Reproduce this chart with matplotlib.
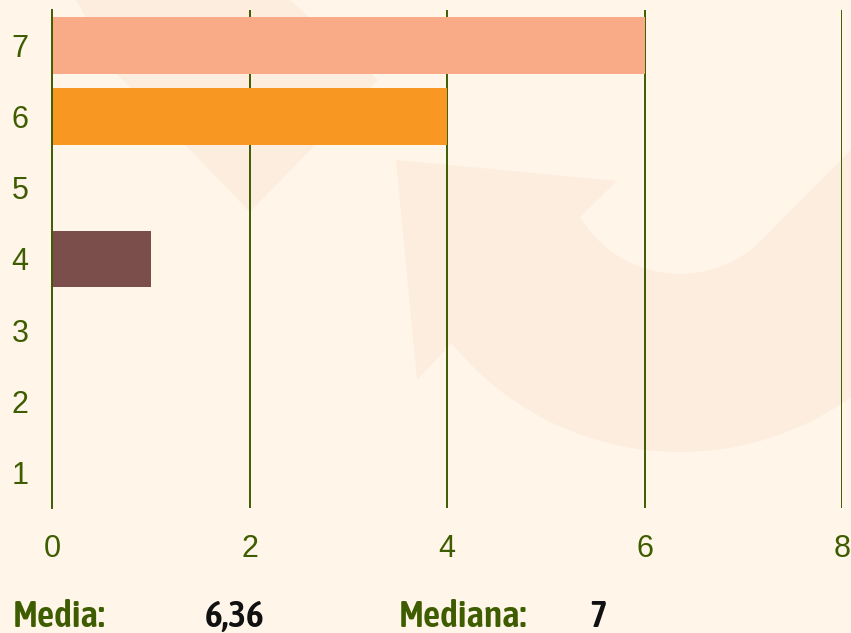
import matplotlib
matplotlib.use("Agg")
import matplotlib.pyplot as plt
from matplotlib import font_manager
from matplotlib.patches import Polygon
import numpy as np

# data
categories = [1, 2, 3, 4, 5, 6, 7]
counts = [0, 0, 0, 1, 0, 4, 6]
bar_colors = ["#C9D66B", "#8FB339", "#4F7A28", "#7B4E4B",
              "#F5C16C", "#F89721", "#F9AB88"]
x_ticks = [0, 2, 4, 6, 8]

BG = "#FFF5E8"
WATERMARK = "#FDEDDF"
GREEN = "#3E5C00"

W, H = 851, 633


def as_weight(w):
    table = {"normal": 400, "regular": 400, "book": 400, "medium": 500,
             "semibold": 600, "demibold": 600, "bold": 700,
             "heavy": 800, "extra bold": 800, "black": 900}
    if isinstance(w, str):
        return table.get(w.lower(), 400)
    return int(w)


def pick_narrow_font():
    """Return a FontProperties for the condensed summary text."""
    fonts = font_manager.fontManager.ttflist
    narrow = [f for f in fonts
              if ("Narrow" in f.name or "Condensed" in f.name
                  or f.stretch in ("condensed", "semi-condensed"))
              and "DejaVu" not in f.name
              and f.style == "normal"]
    if not narrow:
        return font_manager.FontProperties(family="Roboto",
                                           weight="medium", size=24)
    # a medium / semibold face is closest to the reference look
    best = min(narrow, key=lambda f: (as_weight(f.weight) < 500,
                                      abs(as_weight(f.weight) - 560)))
    size = 27 if as_weight(best.weight) >= 500 else 28.5
    return font_manager.FontProperties(fname=best.fname, size=size)


def draw_watermark(fig):
    # faint decorative arrows behind the chart (pixel coords)
    bg = fig.add_axes([0, 0, 1, 1], zorder=-1)
    bg.set_xlim(0, W)
    bg.set_ylim(H, 0)
    bg.axis("off")
    bg.patch.set_visible(False)

    top_arrow = [(76, 0), (290, 0), (378, 80), (250, 212), (118, 75)]
    bg.add_patch(Polygon(top_arrow, closed=True, color=WATERMARK, lw=0))

    cx, cy = 680, 158
    t_in = np.linspace(np.radians(150), np.radians(48), 40)
    inner = [(cx + 116 * np.cos(t), cy + 116 * np.sin(t)) for t in t_in]
    t_out = np.linspace(np.radians(54), np.radians(141), 40)
    outer = [(cx + 294 * np.cos(t), cy + 294 * np.sin(t)) for t in t_out]
    curve = ([(396, 160), (617, 181), (580, 217)] + inner
             + [(900, 100), (900, 370)] + outer + [(417, 380)])
    bg.add_patch(Polygon(curve, closed=True, color=WATERMARK, lw=0))


def main():
    fp = pick_narrow_font()

    fig = plt.figure(figsize=(W / 100, H / 100), dpi=100, facecolor=BG)
    draw_watermark(fig)

    ax = fig.add_axes([52 / W, 125 / H, 790 / W, 498 / H])
    ax.patch.set_visible(False)

    ax.barh(categories, counts, height=0.8, color=bar_colors,
            linewidth=0, zorder=2)

    ax.set_xlim(0, 8)
    ax.set_ylim(0.5, 7.5)
    ax.set_xticks(x_ticks)
    ax.set_yticks(categories)

    for x in x_ticks[1:]:
        ax.axvline(x, color=GREEN, lw=1.4, zorder=1)
    for side in ["top", "right", "bottom"]:
        ax.spines[side].set_visible(False)
    ax.spines["left"].set_color(GREEN)
    ax.spines["left"].set_linewidth(1.4)

    ax.tick_params(axis="both", length=0, colors=GREEN,
                   labelsize=22)
    ax.tick_params(axis="y", pad=17)
    ax.tick_params(axis="x", pad=19)
    for lbl in ax.get_xticklabels() + ax.get_yticklabels():
        lbl.set_fontfamily("Liberation Sans")

    # summary line
    values = np.repeat(categories, counts)
    mean = np.mean(values)
    median = np.median(values)
    mean_txt = f"{mean:.2f}".replace(".", ",")
    median_txt = f"{median:g}".replace(".", ",")

    base = 6 / H
    style = dict(fontproperties=fp, va="baseline", ha="left")
    fig.text(13 / W, base, "Media:", color=GREEN, **style)
    fig.text(205 / W, base, mean_txt, color="#111111", **style)
    fig.text(399 / W, base, "Mediana:", color=GREEN, **style)
    fig.text(589 / W, base, median_txt, color="#111111", **style)

    fig.savefig("out.png", dpi=100, facecolor=BG)


if __name__ == "__main__":
    main()
